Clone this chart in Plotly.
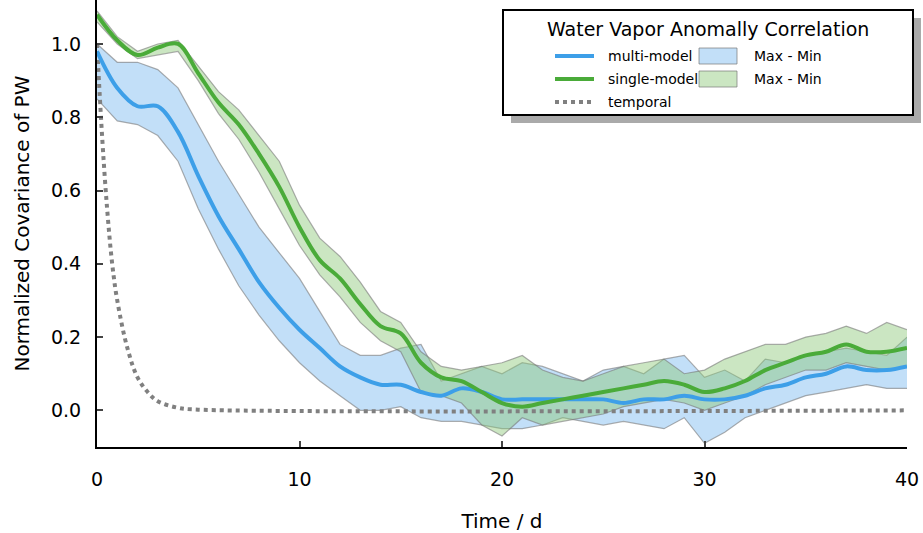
import plotly.graph_objects as go

t = list(range(41))
multi_mean = [0.98, 0.88, 0.83, 0.83, 0.76, 0.64, 0.53, 0.44, 0.35, 0.28, 0.22, 0.17, 0.12, 0.09, 0.07, 0.07, 0.05, 0.04, 0.06, 0.05, 0.03,
              0.03, 0.03, 0.03, 0.03, 0.03, 0.02, 0.03, 0.03, 0.04, 0.03, 0.03, 0.04, 0.06, 0.07, 0.09, 0.10, 0.12, 0.11, 0.11, 0.12]
multi_max = [1.0, 0.95, 0.95, 0.93, 0.88, 0.78, 0.68, 0.59, 0.50, 0.43, 0.36, 0.27, 0.18, 0.15, 0.15, 0.17, 0.18, 0.08, 0.10, 0.12, 0.10,
             0.13, 0.12, 0.10, 0.08, 0.11, 0.12, 0.10, 0.14, 0.15, 0.09, 0.11, 0.08, 0.14, 0.13, 0.15, 0.16, 0.17, 0.16, 0.15, 0.20]
multi_min = [0.85, 0.79, 0.78, 0.75, 0.68, 0.55, 0.44, 0.34, 0.26, 0.19, 0.13, 0.08, 0.04, 0.0, 0.0, 0.01, -0.02, -0.03, -0.03, -0.04, -0.05,
             -0.05, -0.04, -0.02, -0.03, -0.04, -0.03, -0.04, -0.05, -0.02, -0.09, -0.06, -0.02, 0.0, 0.02, 0.04, 0.05, 0.06, 0.07, 0.06, 0.06]
single_mean = [1.08, 1.01, 0.97, 0.99, 1.00, 0.92, 0.84, 0.78, 0.70, 0.61, 0.50, 0.41, 0.36, 0.29, 0.23, 0.21, 0.13, 0.09, 0.08, 0.05, 0.02,
               0.01, 0.02, 0.03, 0.04, 0.05, 0.06, 0.07, 0.08, 0.07, 0.05, 0.06, 0.08, 0.11, 0.13, 0.15, 0.16, 0.18, 0.16, 0.16, 0.17]
single_max = [1.09, 1.02, 0.98, 1.00, 1.01, 0.94, 0.87, 0.82, 0.75, 0.68, 0.56, 0.47, 0.42, 0.35, 0.27, 0.24, 0.16, 0.12, 0.11, 0.12, 0.13,
              0.15, 0.11, 0.09, 0.08, 0.10, 0.12, 0.13, 0.14, 0.10, 0.11, 0.14, 0.16, 0.18, 0.18, 0.20, 0.21, 0.23, 0.21, 0.24, 0.22]
single_min = [1.06, 1.00, 0.96, 0.97, 0.98, 0.90, 0.81, 0.74, 0.65, 0.55, 0.45, 0.37, 0.31, 0.24, 0.19, 0.16, 0.05, 0.04, 0.02, -0.04, -0.07,
              -0.02, -0.04, -0.03, -0.02, -0.01, 0.01, 0.02, 0.03, 0.02, 0.0, 0.02, 0.04, 0.07, 0.09, 0.11, 0.11, 0.13, 0.12, 0.11, 0.12]
temp_t = [0, 0.25, 0.5, 0.75, 1, 1.5, 2, 2.5, 3, 4, 5, 40]
temp_v = [1.0, 0.75, 0.55, 0.40, 0.30, 0.17, 0.09, 0.05, 0.025, 0.007, 0.002, 0.0]

blue, green, gray = "#3d9fe8", "#4aab39", "#808080"
blue_fill, green_fill = "rgba(120,185,240,0.45)", "rgba(140,200,120,0.45)"
fig = go.Figure()
for lo, hi, fc in [(multi_min, multi_max, blue_fill), (single_min, single_max, green_fill)]:
    fig.add_trace(go.Scatter(x=t, y=hi, mode="lines", line=dict(color="rgba(120,120,120,0.6)", width=1.2), showlegend=False))
    fig.add_trace(go.Scatter(x=t, y=lo, mode="lines", fill="tonexty", fillcolor=fc,
                             line=dict(color="rgba(120,120,120,0.6)", width=1.2), showlegend=False))
fig.add_trace(go.Scatter(x=temp_t, y=temp_v, mode="lines", line=dict(color=gray, width=4, dash="dot", shape="spline"), showlegend=False))
fig.add_trace(go.Scatter(x=t, y=multi_mean, mode="lines", line=dict(color=blue, width=4, shape="spline"), showlegend=False))
fig.add_trace(go.Scatter(x=t, y=single_mean, mode="lines", line=dict(color=green, width=4, shape="spline"), showlegend=False))

def px(x): return (x - 97) / 810
def py(y): return (447 - y) / 447

shapes = [
    dict(type="rect", xref="paper", yref="paper", x0=px(511), x1=px(921), y0=py(123), y1=py(18), fillcolor="#aaaaaa", line_width=0),
    dict(type="rect", xref="paper", yref="paper", x0=px(503), x1=px(913), y0=py(115), y1=py(10), fillcolor="white", line=dict(color="black", width=2)),
]
ann = [dict(text="Water Vapor Anomally Correlation", x=px(708), y=py(29), xref="paper", yref="paper", showarrow=False,
            xanchor="center", yanchor="middle", font=dict(size=19))]
rows = [(blue, "multi-model", 56), (green, "single-model", 79), (gray, "temporal", 102)]
for c, name, yy in rows:
    shapes.append(dict(type="line", xref="paper", yref="paper", x0=px(555), x1=px(594), y0=py(yy), y1=py(yy),
                       line=dict(color=c, width=4, dash="dot" if name == "temporal" else "solid")))
    ann.append(dict(text=name, x=px(606), y=py(yy), xref="paper", yref="paper", showarrow=False,
                    xanchor="left", yanchor="middle", font=dict(size=14)))
for fc, yy in [(blue_fill, 56), (green_fill, 79)]:
    shapes.append(dict(type="rect", xref="paper", yref="paper", x0=px(699), x1=px(737), y0=py(yy + 8), y1=py(yy - 8),
                       fillcolor=fc, line=dict(color="rgba(120,120,120,0.7)", width=1)))
    ann.append(dict(text="Max - Min", x=px(752), y=py(yy), xref="paper", yref="paper", showarrow=False,
                    xanchor="left", yanchor="middle", font=dict(size=14)))

fig.update_layout(
    width=923, height=533, margin=dict(l=97, r=16, t=0, b=86),
    plot_bgcolor="white", paper_bgcolor="white",
    font=dict(family="DejaVu Sans", color="black", size=19),
    shapes=shapes, annotations=ann,
    xaxis=dict(range=[0, 40], tickvals=[0, 10, 20, 30, 40], showline=True, linecolor="black", linewidth=2,
               ticks="inside", ticklen=6, tickwidth=1.5, showgrid=False, zeroline=False, automargin=False,
               ticklabelstandoff=14, title=dict(text="Time / d", font=dict(size=20), standoff=26)),
    yaxis=dict(range=[-0.1, 1.12], tickvals=[0, 0.2, 0.4, 0.6, 0.8, 1.0], tickformat=".1f", showline=True,
               linecolor="black", linewidth=2, ticks="inside", ticklen=6, tickwidth=1.5, showgrid=False, zeroline=False,
               automargin=False, ticklabelstandoff=10, title=dict(text="Normalized Covariance of PW", font=dict(size=20), standoff=16)),
)
fig.write_html("out.html", config={"displayModeBar": False}, post_script="document.body.style.margin='0';")
